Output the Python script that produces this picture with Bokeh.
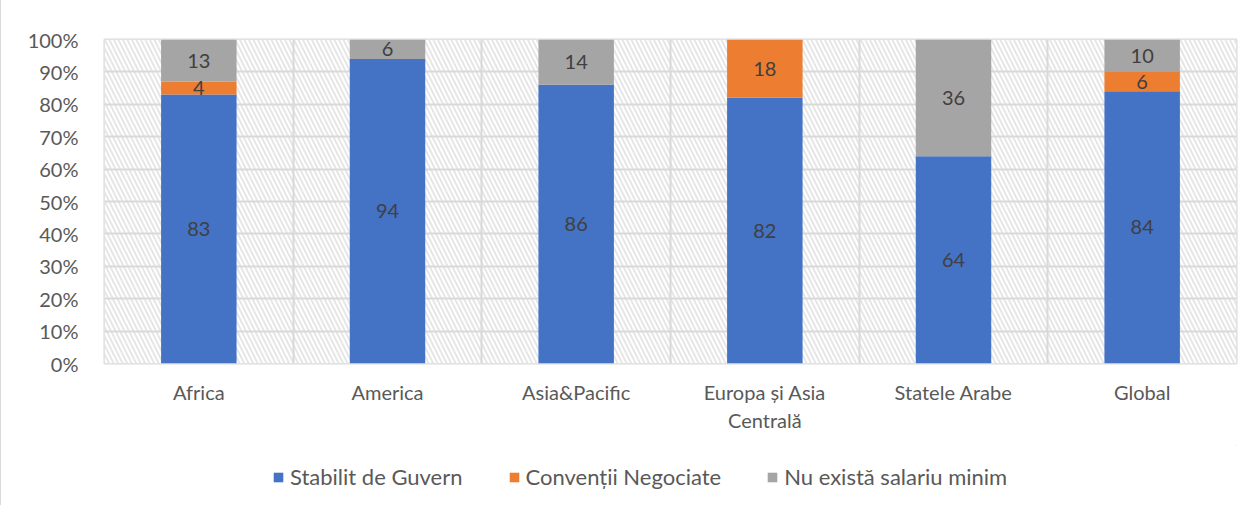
from bokeh.plotting import figure
from bokeh.layouts import column
from bokeh.models import (ColumnDataSource, BoxAnnotation, Legend, LegendItem,
                          FixedTicker, PrintfTickFormatter, Range1d)
from bokeh.core.properties import value
from bokeh.embed import file_html
from bokeh.resources import INLINE

categories = ["Africa", "America", "Asia&Pacific", "Europa și Asia\nCentrală", "Statele Arabe", "Global"]
guvern = [83, 94, 86, 82, 64, 84]
conventii = [4, 0, 0, 18, 0, 6]
fara = [13, 6, 14, 0, 36, 10]
series_names = ["Stabilit de Guvern", "Convenții Negociate", "Nu există salariu minim"]
colors = ["#4472C4", "#ED7D31", "#A5A5A5"]

FONT = "Lato"
FS = "20px"
W = 1240
xs = [i + 0.5 for i in range(len(categories))]

src = ColumnDataSource(dict(x=xs, g=guvern, c=conventii, n=fara))

p = figure(width=W, height=445, output_backend="svg", toolbar_location=None,
           x_range=Range1d(0, len(categories)), y_range=Range1d(0, 100),
           min_border_left=103, min_border_right=5, min_border_top=39, min_border_bottom=82)

# hatched plot background
p.add_layout(BoxAnnotation(fill_color="white", fill_alpha=1.0, line_alpha=0,
                           hatch_pattern="\\", hatch_color="#e6e6e6",
                           hatch_scale=9, hatch_weight=2, level="image"))

rs = p.vbar_stack(["g", "c", "n"], x="x", width=0.4, source=src,
                  color=colors, line_color=None)

# data labels
lx, ly, lt = [], [], []
for i, x in enumerate(xs):
    base = 0
    for v in (guvern[i], conventii[i], fara[i]):
        if v > 0:
            lx.append(x)
            ly.append(base + v / 2)
            lt.append(str(v))
        base += v
p.text(x=lx, y=ly, text=lt, text_align="center", text_baseline="middle",
       text_font=value(FONT), text_font_size=FS, text_color="#404040")

# axes
p.yaxis.ticker = FixedTicker(ticks=list(range(0, 101, 10)))
p.yaxis.formatter = PrintfTickFormatter(format="%d%%")
p.xaxis.ticker = FixedTicker(ticks=xs)
p.xaxis.major_label_overrides = {x: c for x, c in zip(xs, categories)}
for ax in (p.xaxis[0], p.yaxis[0]):
    ax.axis_line_color = None
    ax.major_tick_line_color = None
    ax.minor_tick_line_color = None
    ax.major_label_text_font = FONT
    ax.major_label_text_font_size = FS
    ax.major_label_text_color = "#595959"
p.xaxis.major_label_standoff = 10
p.yaxis.major_label_standoff = 20

p.ygrid.ticker = FixedTicker(ticks=list(range(0, 101, 10)))
p.xgrid.ticker = FixedTicker(ticks=list(range(0, len(categories) + 1)))
p.grid.grid_line_color = "#d9d9d9"
p.grid.grid_line_width = 2
p.grid.level = "underlay"
p.outline_line_color = "#d9d9d9"
p.outline_line_width = 2

# legend strip underneath
lg = figure(width=W, height=60, output_backend="svg", toolbar_location=None,
            x_range=Range1d(0, 1), y_range=Range1d(0, 1),
            min_border_left=103, min_border_right=5, min_border_top=0, min_border_bottom=0)
lg.axis.visible = False
lg.grid.visible = False
lg.outline_line_color = None
dummies = [lg.vbar(x=[5], top=[5], bottom=[4], width=0.1, color=c, line_color=None) for c in colors]
legend = Legend(items=[LegendItem(label=n, renderers=[r]) for n, r in zip(series_names, dummies)],
                orientation="horizontal", location=(168, 15),
                label_text_font=FONT, label_text_font_size="22px", label_text_color="#595959",
                glyph_width=12, glyph_height=12, label_standoff=6, spacing=45,
                background_fill_alpha=0, border_line_color=None, padding=0, margin=0)
lg.add_layout(legend, "center")

page = column(p, lg, spacing=0, styles={"border-left": "1.5px solid #d9d9d9"})
open("out.html", "w").write(file_html(page, INLINE))
